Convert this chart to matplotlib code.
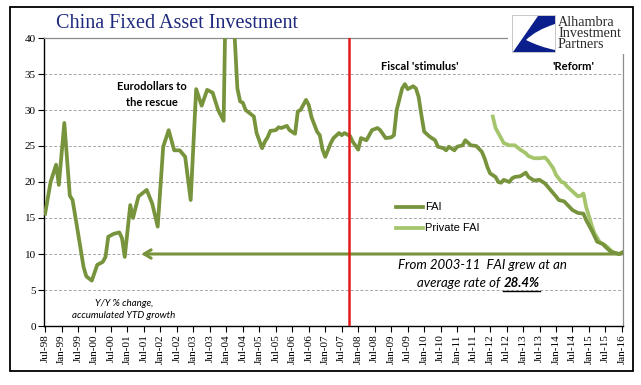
import matplotlib
matplotlib.use('Agg')
import matplotlib.pyplot as plt
from matplotlib.lines import Line2D
from matplotlib.patches import Rectangle, PathPatch
from matplotlib.path import Path
import pandas as pd

# ── Data (YTD y/y % growth) ─────────────────────────────────────────
fai_dates = [
    '1998-07', '1998-09', '1998-11', '1998-12', '1999-02', '1999-04', '1999-05',
    '1999-07', '1999-09', '1999-10', '1999-12', '2000-02', '2000-04', '2000-05',
    '2000-06', '2000-08', '2000-10', '2000-11', '2000-12', '2001-02', '2001-03',
    '2001-05', '2001-08', '2001-10', '2001-12', '2002-02', '2002-04', '2002-06',
    '2002-08', '2002-10', '2002-12', '2003-02', '2003-04', '2003-06', '2003-08',
    '2003-10', '2003-12', '2004-01', '2004-02', '2004-03', '2004-04', '2004-05',
    '2004-06', '2004-07', '2004-08', '2004-11', '2004-12', '2005-02', '2005-03',
    '2005-04', '2005-05', '2005-07', '2005-08', '2005-09', '2005-11', '2005-12',
    '2006-02', '2006-03', '2006-04', '2006-06', '2006-07', '2006-08', '2006-10',
    '2006-11', '2006-12', '2007-01', '2007-03', '2007-04', '2007-06', '2007-07',
    '2007-08', '2007-09', '2007-10', '2007-11', '2008-01', '2008-02', '2008-04',
    '2008-06', '2008-08', '2008-09', '2008-11', '2009-01', '2009-02', '2009-03',
    '2009-05', '2009-06', '2009-07', '2009-09', '2009-10', '2009-11', '2009-12',
    '2010-01', '2010-03', '2010-05', '2010-06', '2010-08', '2010-09', '2010-10',
    '2010-12', '2011-01', '2011-03', '2011-04', '2011-06', '2011-08', '2011-10',
    '2011-11', '2011-12', '2012-01', '2012-03', '2012-04', '2012-05', '2012-06',
    '2012-08', '2012-09', '2012-10', '2012-12', '2013-02', '2013-03', '2013-05',
    '2013-07', '2013-09', '2013-11', '2014-01', '2014-02', '2014-04', '2014-05',
    '2014-07', '2014-09', '2014-11', '2014-12', '2015-02', '2015-04', '2015-06',
    '2015-07', '2015-09', '2015-10', '2015-12', '2016-01',
]
fai_values = [
    15.6, 20.0, 22.4, 19.6, 28.2, 18.1, 17.5,
    12.9, 8.2, 6.9, 6.3, 8.5, 8.9, 9.6,
    12.4, 12.8, 13.0, 12.2, 9.6, 16.8, 15.0,
    18.0, 18.9, 17.0, 13.8, 24.9, 27.2, 24.4,
    24.4, 23.5, 17.5, 32.9, 30.6, 32.8, 32.4,
    30.0, 28.5, 52.0, 47.8, 43.5, 40.3, 33.0,
    31.2, 31.0, 30.0, 29.1, 26.8, 24.7, 25.6,
    26.2, 27.1, 27.2, 27.6, 27.5, 27.8, 27.2,
    26.7, 29.8, 30.0, 31.4, 30.7, 29.0, 27.0,
    26.5, 24.5, 23.5, 25.4, 26.1, 26.8, 26.5,
    26.8, 26.6, 26.4, 25.6, 24.5, 26.1, 25.8,
    27.2, 27.5, 27.2, 26.1, 26.2, 26.5, 30.0,
    33.0, 33.6, 32.9, 33.3, 33.0, 31.8, 29.3,
    27.0, 26.3, 25.8, 24.9, 24.7, 24.4, 24.9,
    24.4, 24.9, 25.1, 25.8, 25.1, 25.0, 24.2,
    23.3, 22.1, 21.2, 20.7, 20.0, 19.9, 20.3,
    20.0, 20.5, 20.7, 20.8, 21.3, 20.7, 20.2,
    20.3, 19.8, 18.9, 18.0, 17.5, 17.3, 16.9,
    16.1, 15.7, 15.6, 14.7, 13.3, 11.7, 11.4,
    11.0, 10.3, 10.2, 10.0, 10.2,
]

private_dates = [
    '2012-02', '2012-03', '2012-05', '2012-06', '2012-08', '2012-10', '2012-12',
    '2013-02', '2013-03', '2013-05', '2013-07', '2013-09', '2013-10', '2013-12',
    '2014-01', '2014-03', '2014-04', '2014-05', '2014-07', '2014-09', '2014-10',
    '2014-11', '2014-12', '2015-02', '2015-03', '2015-05', '2015-07', '2015-09',
    '2015-10', '2015-12',
]
private_values = [
    29.1, 27.5, 26.1, 25.4, 25.1, 25.1, 24.5,
    24.0, 23.6, 23.3, 23.3, 23.4, 23.0, 21.9,
    21.0, 20.0, 19.9, 19.4, 18.7, 18.0, 18.1,
    18.4, 16.5, 14.0, 12.9, 11.6, 11.2, 10.5,
    10.2, 10.0,
]

crisis_date = '2007-09-18'
avg_level = 10.0
arrow_from, arrow_to = '2016-01', '2001-06'

tick_labels = pd.date_range('1998-07-01', '2016-01-01', freq='6MS').strftime('%b-%y').tolist()
y_ticks = [0, 5, 10, 15, 20, 25, 30, 35, 40]

FAI_COL = '#77933C'
PRIV_COL = '#A5C56C'
TITLE_COL = '#1F2A7E'
W, H = 641, 385


def mi(s):
    ts = pd.Timestamp(s)
    return (ts.year - 1998) * 12 + ts.month - 7 + (ts.day - 1) / 30.0


def fx(px):
    return px / W


def fy(py):
    return 1 - py / H


fig = plt.figure(figsize=(W / 100, H / 100), dpi=100)
fig.patch.set_facecolor('white')
ax = fig.add_axes([fx(44), fy(326), fx(623) - fx(44), fy(38) - fy(326)])

ax.plot([mi(d) for d in fai_dates], fai_values, color=FAI_COL, lw=2.7,
        solid_joinstyle='round', zorder=4)
ax.plot([mi(d) for d in private_dates], private_values, color=PRIV_COL, lw=2.7,
        solid_joinstyle='round', zorder=3)
ax.axvline(mi(crisis_date), color='#E41A1A', lw=1.8, zorder=5)
ax.annotate('', xy=(mi(arrow_to), avg_level), xytext=(mi(arrow_from), avg_level),
            arrowprops=dict(arrowstyle='->,head_length=0.5,head_width=0.3',
                            color=FAI_COL, lw=2.2, shrinkA=0, shrinkB=0),
            zorder=2)

ax.set_xlim(-0.4, 210.4)
ax.set_ylim(0, 40)
ax.set_yticks(y_ticks)
ax.set_xticks(range(0, 6 * len(tick_labels), 6))
ax.set_xticklabels(tick_labels, rotation=90, family='Liberation Serif', fontsize=8)
ax.set_yticklabels([str(v) for v in y_ticks], family='Liberation Serif', fontsize=8)
ax.tick_params(axis='both', direction='out', length=4, width=0.8, pad=2)
for v in y_ticks[1:-1]:
    ax.axhline(v, color='#A6A6A6', lw=0.7, ls=(0, (3, 2)), zorder=1)

for s in ['left', 'bottom']:
    ax.spines[s].set_color('black')
    ax.spines[s].set_linewidth(1.0)
for s in ['top', 'right']:
    ax.spines[s].set_color('#8C8C8C')
    ax.spines[s].set_linewidth(0.9)

# ── Outer frame and title ────────────────────────────────────────────
fig.add_artist(Rectangle((fx(10), fy(371)), fx(633) - fx(10), fy(7) - fy(371),
                         fill=False, edgecolor='black', lw=1.3, zorder=10))
fig.text(fx(177), fy(23), 'China Fixed Asset Investment', ha='center', va='center',
         family='Liberation Serif', fontsize=14.5, color=TITLE_COL)

# ── Logo ─────────────────────────────────────────────────────────────
fig.add_artist(Rectangle((fx(508), fy(54)), fx(631) - fx(508), fy(9) - fy(54),
                         facecolor='white', edgecolor='none', zorder=6))
fig.add_artist(Rectangle((fx(512), fy(52)), fx(555) - fx(512), fy(15) - fy(52),
                         facecolor='white', edgecolor='#BFBFBF', lw=0.6, zorder=7))
verts = [(513, 52), (538, 16), (555, 16), (555, 24), (536, 30), (526, 40),
         (540, 47), (555, 50), (555, 52), (513, 52)]
codes = [Path.MOVETO, Path.LINETO, Path.LINETO, Path.LINETO, Path.CURVE3, Path.CURVE3,
         Path.CURVE3, Path.CURVE3, Path.LINETO, Path.CLOSEPOLY]
fig.add_artist(PathPatch(Path([(fx(a), fy(b)) for a, b in verts], codes),
                         transform=fig.transFigure, facecolor='#0B1F8C',
                         edgecolor='none', zorder=8))
for i, word in enumerate(['Alhambra', 'Investment', 'Partners']):
    fig.text(fx(558), fy(22 + 11.5 * i), word, ha='left', va='center',
             family='Liberation Serif', fontsize=10.2, color='#2B2B2B', zorder=9)

# ── Annotations ──────────────────────────────────────────────────────
bold = dict(family='Lato', fontweight='bold', fontsize=8, color='black',
            ha='center', va='center')
fig.text(fx(152), fy(87), 'Eurodollars to', **bold)
fig.text(fx(152), fy(102), 'the rescue', **bold)
fig.text(fx(420), fy(67), "Fiscal 'stimulus'", **bold)
fig.text(fx(573), fy(67), "'Reform'", **bold)

small = dict(family='Lato', style='italic', fontsize=7, color='black',
             ha='center', va='center')
fig.text(fx(124), fy(304), 'Y/Y % change,', **small)
fig.text(fx(124), fy(316), 'accumulated YTD growth', **small)

# legend
fig.add_artist(Line2D([fx(396), fx(423)], [fy(207)] * 2, color=FAI_COL, lw=2.7))
fig.add_artist(Line2D([fx(396), fx(423)], [fy(228)] * 2, color=PRIV_COL, lw=2.7))
fig.text(fx(425), fy(207), 'FAI', family='Liberation Sans', fontsize=8, va='center')
fig.text(fx(425), fy(228), 'Private FAI', family='Liberation Sans', fontsize=8,
         va='center')

note = dict(family='Lato', style='italic', fontsize=9.5, color='black', va='center')
fig.text(fx(482), fy(265), 'From 2003-11  FAI grew at an', ha='center', **note)
t1 = fig.text(fx(417), fy(283), 'average rate of ', ha='left', **note)
fig.canvas.draw()
bb = t1.get_window_extent()
t2 = fig.text(bb.x1 / W, fy(283), '28.4%', ha='left', fontweight='bold', **note)
fig.canvas.draw()
bb2 = t2.get_window_extent()
fig.add_artist(Line2D([bb2.x0 / W, bb2.x1 / W], [fy(291)] * 2, color='black', lw=1.0))

fig.savefig('out.png', dpi=100, facecolor='white')
plt.close()
